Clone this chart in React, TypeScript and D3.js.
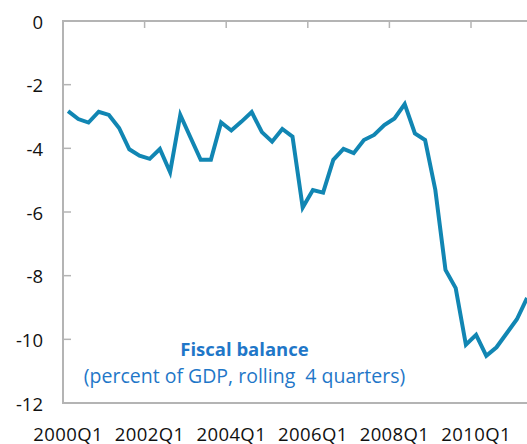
import React from "react";
import * as d3 from "d3";

const years = [2000, 2001, 2002, 2003, 2004, 2005, 2006, 2007, 2008, 2009, 2010, 2011];
const quarters = years.flatMap((y) => [1, 2, 3, 4].map((q) => `${y}Q${q}`));
const fiscalBalance = [
  -2.83, -3.08, -3.19, -2.85, -2.95, -3.36, -4.03, -4.23, -4.33, -4.02, -4.75, -2.95,
  -3.66, -4.36, -4.36, -3.19, -3.44, -3.16, -2.86, -3.49, -3.79, -3.39, -3.63, -5.86,
  -5.31, -5.39, -4.36, -4.02, -4.15, -3.74, -3.58, -3.27, -3.06, -2.61, -3.53, -3.74,
  -5.3, -7.82, -8.39, -10.17, -9.86, -10.52, -10.25, -9.81, -9.37, -8.7,
];
const yTicks = [0, -2, -4, -6, -8, -10, -12];
const xLabels = ["2000Q1", "2002Q1", "2004Q1", "2006Q1", "2008Q1", "2010Q1"];
const title = "Fiscal balance";
const subtitle = "(percent of GDP, rolling\u00a0 4 quarters)";

const W = 527;
const H = 444;
const left = 63;
const top = 21;
const bottom = 403;
const step = 10.2;

export default function App() {
  const x = d3
    .scaleBand<string>()
    .domain(quarters)
    .range([left, left + quarters.length * step])
    .padding(0);
  const y = d3.scaleLinear().domain([-12, 0]).range([bottom, top]);
  const cx = (q: string) => (x(q) as number) + x.bandwidth() / 2;
  const line = d3
    .line<number>()
    .x((_, i) => cx(quarters[i]))
    .y((d) => y(d));
  const axisColor = "#b4b4b4";
  const font = "'Open Sans', 'Noto Sans', sans-serif";
  const tickQuarters = quarters.filter((_, i) => i % 8 === 0 && i > 0);
  const rightEdge = left + quarters.length * step;

  return (
    <svg
      width={W}
      height={H}
      style={{ position: "absolute", left: 0, top: 0, overflow: "hidden", background: "#fff" }}
    >
      <rect x={0} y={0} width={W} height={H} fill="#fff" />
      <line x1={left} x2={rightEdge} y1={y(0)} y2={y(0)} stroke={axisColor} strokeWidth={2} />
      <line x1={left} x2={rightEdge} y1={bottom} y2={bottom} stroke={axisColor} strokeWidth={2} />
      <line x1={left} x2={left} y1={top - 1} y2={bottom + 1} stroke={axisColor} strokeWidth={2} />
      {tickQuarters.map((q) => (
        <line
          key={q}
          x1={x(q) as number}
          x2={x(q) as number}
          y1={y(0)}
          y2={y(0) + 7}
          stroke={axisColor}
          strokeWidth={1.5}
        />
      ))}
      {yTicks.map((t) => (
        <g key={t}>
          {t !== 0 && t !== -12 && (
            <line x1={left} x2={left + 8} y1={y(t)} y2={y(t)} stroke={axisColor} strokeWidth={1.5} />
          )}
          <text
            x={43}
            y={y(t)}
            textAnchor="end"
            dominantBaseline="central"
            fontFamily={font}
            fontSize={18.5}
            fill="#111"
          >
            {t === 0 ? "0" : `-${Math.abs(t)}`}
          </text>
        </g>
      ))}
      {xLabels.map((lab) => (
        <text
          key={lab}
          x={cx(lab)}
          y={441}
          textAnchor="middle"
          fontFamily={font}
          fontSize={18.5}
          letterSpacing={0.4}
          fill="#111"
        >
          {lab}
        </text>
      ))}
      <path
        d={line(fiscalBalance) || ""}
        fill="none"
        stroke="#1186b3"
        strokeWidth={4}
        strokeLinejoin="miter"
        strokeLinecap="butt"
      />
      <text x={244.5} y={356} textAnchor="middle" fontFamily={font} fontSize={18.5} fontWeight="bold" fill="#1f77c8">
        {title}
      </text>
      <text x={244.5} y={383} textAnchor="middle" fontFamily={font} fontSize={19.5} fill="#1f77c8">
        {subtitle}
      </text>
    </svg>
  );
}
